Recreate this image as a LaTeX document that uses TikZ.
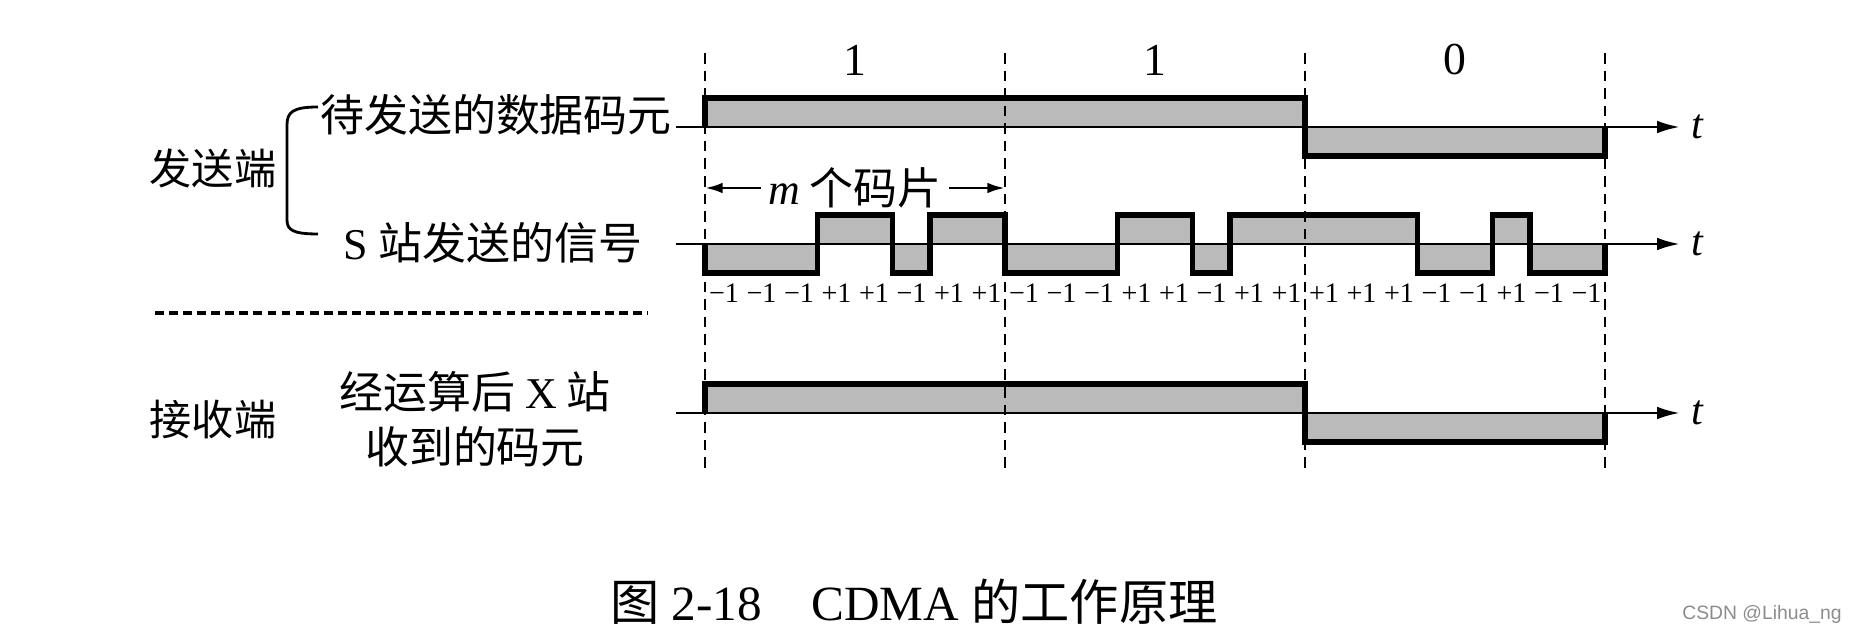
\documentclass[tikz,border=0pt]{standalone}
\usepackage{fontspec}
\setmainfont{Liberation Serif}
\newfontfamily\cjk{Noto Sans CJK SC}
\newfontfamily\wmfont{Liberation Sans}
\usetikzlibrary{arrows.meta, positioning}

\tikzset{
  axisline/.style={line width=0.8pt, -{Latex[length=6.5pt, width=3.6pt]}},
  wave/.style={line width=1.5pt, fill=black!27, line join=miter},
  vline/.style={line width=0.8pt, dash pattern=on 3pt off 2pt},
  sepline/.style={line width=1pt, dash pattern=on 2.5pt off 1.5pt},
  marrow/.style={line width=0.8pt, -{Latex[length=5pt, width=3pt]}},
  cnlab/.style={font=\fontsize{12.5}{14}\selectfont\cjk, inner sep=0pt},
  sidelab/.style={font=\fontsize{12}{14}\selectfont\cjk, inner sep=0pt},
  chipnum/.style={font=\fontsize{8}{9}\selectfont, inner sep=0pt},
  bitnum/.style={font=\fontsize{13}{15}\selectfont},
  tlab/.style={font=\fontsize{12}{14}\selectfont\itshape, inner sep=1pt},
}

\begin{document}
\begin{tikzpicture}[x=0.01cm, y=-0.01cm]
    \useasboundingbox (0,0) rectangle (1853,637);

    % 码元边界
    \foreach \i in {0,...,3}
        \coordinate (b\i) at (705+300*\i,53);

    % 发送端
    \node[sidelab] (send) at (213,168) {发送端};
    \node[cnlab] (data) at (496,115) {待发送的数据码元};
    \node[cnlab] (chip) at (493,243) {{\rmfamily S} 站发送的信号};
    \draw[line width=0.8pt] (318,107) .. controls (293,107) and (287,112) .. (287,125)
        -- (287,220) .. controls (287,230) and (293,234) .. (318,234);

    % 接收端
    \node[sidelab] (recv) at (213,420) {接收端};
    \node[cnlab] (xsta) at (475,392) {经运算后 {\rmfamily X} 站};
    \node[cnlab] (xcode) at (475,447) {收到的码元};

    \draw[sepline] (155,313) -- (648,313);

    % 数据码元
    \node[bitnum] (bit1) at (855,60) {1};
    \node[bitnum] (bit2) at (1155,60) {1};
    \node[bitnum] (bit3) at (1455,60) {0};

    \filldraw[wave] (705,127) -- (705,98) -- (1305,98) -- (1305,127);
    \filldraw[wave] (1305,127) -- (1305,156) -- (1605,156) -- (1605,127);
    \draw[axisline] (676,127) -- (1680,127) node[tlab, right=2pt] (t1) {t};

    % 码片序列
    \foreach \a/\b/\y in {0/3/273, 3/5/215, 5/6/273, 6/8/215, 8/11/273, 11/13/215,
                          13/14/273, 14/19/215, 19/21/273, 21/22/215, 22/24/273}
        \filldraw[wave] (705+37.5*\a,244) -- (705+37.5*\a,\y) -- (705+37.5*\b,\y) -- (705+37.5*\b,244);
    \draw[axisline] (676,244) -- (1680,244) node[tlab, right=2pt] (t2) {t};

    \foreach \s [count=\i from 0] in {−,−,−,+,+,−,+,+,−,−,−,+,+,−,+,+,+,+,+,−,−,+,−,−}
        \node[chipnum] (c\i) at (724+37.5*\i,293) {\s1};

    \node[cnlab, inner xsep=2pt] (mlab) at (855,188) {{\rmfamily\itshape m} 个码片};
    \draw[marrow] (mlab.west) -- (mlab.west -| b0);
    \draw[marrow] (mlab.east) -- (mlab.east -| b1);

    % 接收码元
    \filldraw[wave] (705,413) -- (705,384) -- (1305,384) -- (1305,413);
    \filldraw[wave] (1305,413) -- (1305,442) -- (1605,442) -- (1605,413);
    \draw[axisline] (676,413) -- (1680,413) node[tlab, right=2pt] (t3) {t};

    % 虚线
    \foreach \i in {0,...,3}
        \draw[vline] (b\i) -- (b\i |- 0,473);

    \node[font=\fontsize{14}{16}\selectfont] (caption) at (914,602)
        {{\cjk 图} 2-18\quad CDMA {\cjk 的工作原理}};
    \node[font=\fontsize{5.5}{6}\selectfont\wmfont, text=black!45] (mark) at (1762,615) {CSDN @Lihua\_ng};
\end{tikzpicture}
\end{document}
